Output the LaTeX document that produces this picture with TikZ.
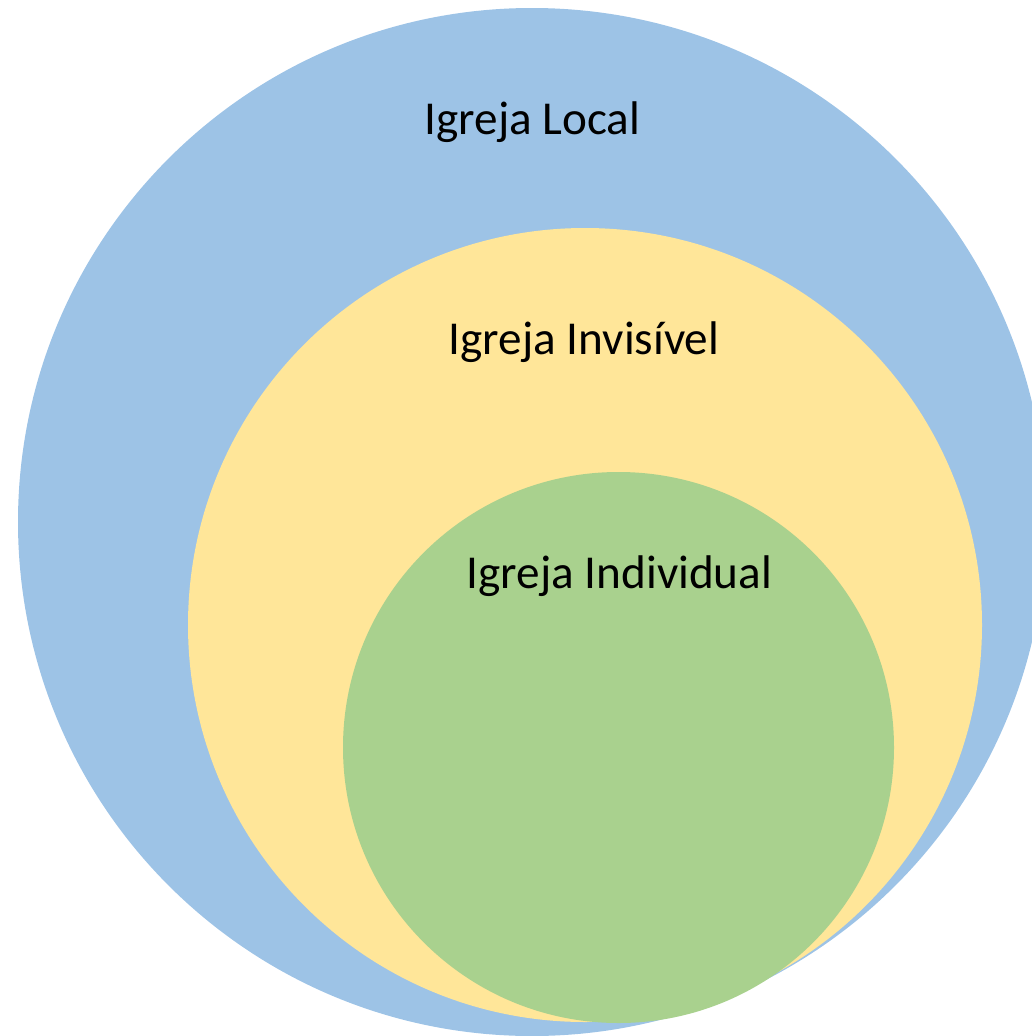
\documentclass[tikz,border=0pt]{standalone}
\usepackage{fontspec}
\setmainfont{Carlito}
\definecolor{cblue}{HTML}{9DC3E6}
\definecolor{cyellow}{HTML}{FFE699}
\definecolor{cgreen}{HTML}{A9D18E}
\tikzset{
  ring/.style={circle, inner sep=0pt, draw=none},
  lab/.style={anchor=base, inner sep=0pt, font=\fontsize{47.2}{56}\selectfont}
}
\begin{document}
\begin{tikzpicture}[x=1pt,y=-1pt]
\useasboundingbox (0,0) rectangle (1032,1036);
\begin{scope}
\clip (0,0) rectangle (1032,1036);
\node[ring, fill=cblue, minimum size=1028pt] (local) at (532,522) {};
\node[ring, fill=cyellow, minimum size=794pt] (invis) at (585,625) {};
\node[ring, fill=cgreen, minimum size=551pt] (indiv) at (618.5,747.5) {};
\end{scope}
\node[lab] (tlocal) at (532.5,134) {Igreja Local};
\node[lab] (tinvis) at (584,354) {Igreja Invisível};
\node[lab] (tindiv) at (619.5,588) {Igreja Individual};
\end{tikzpicture}
\end{document}
